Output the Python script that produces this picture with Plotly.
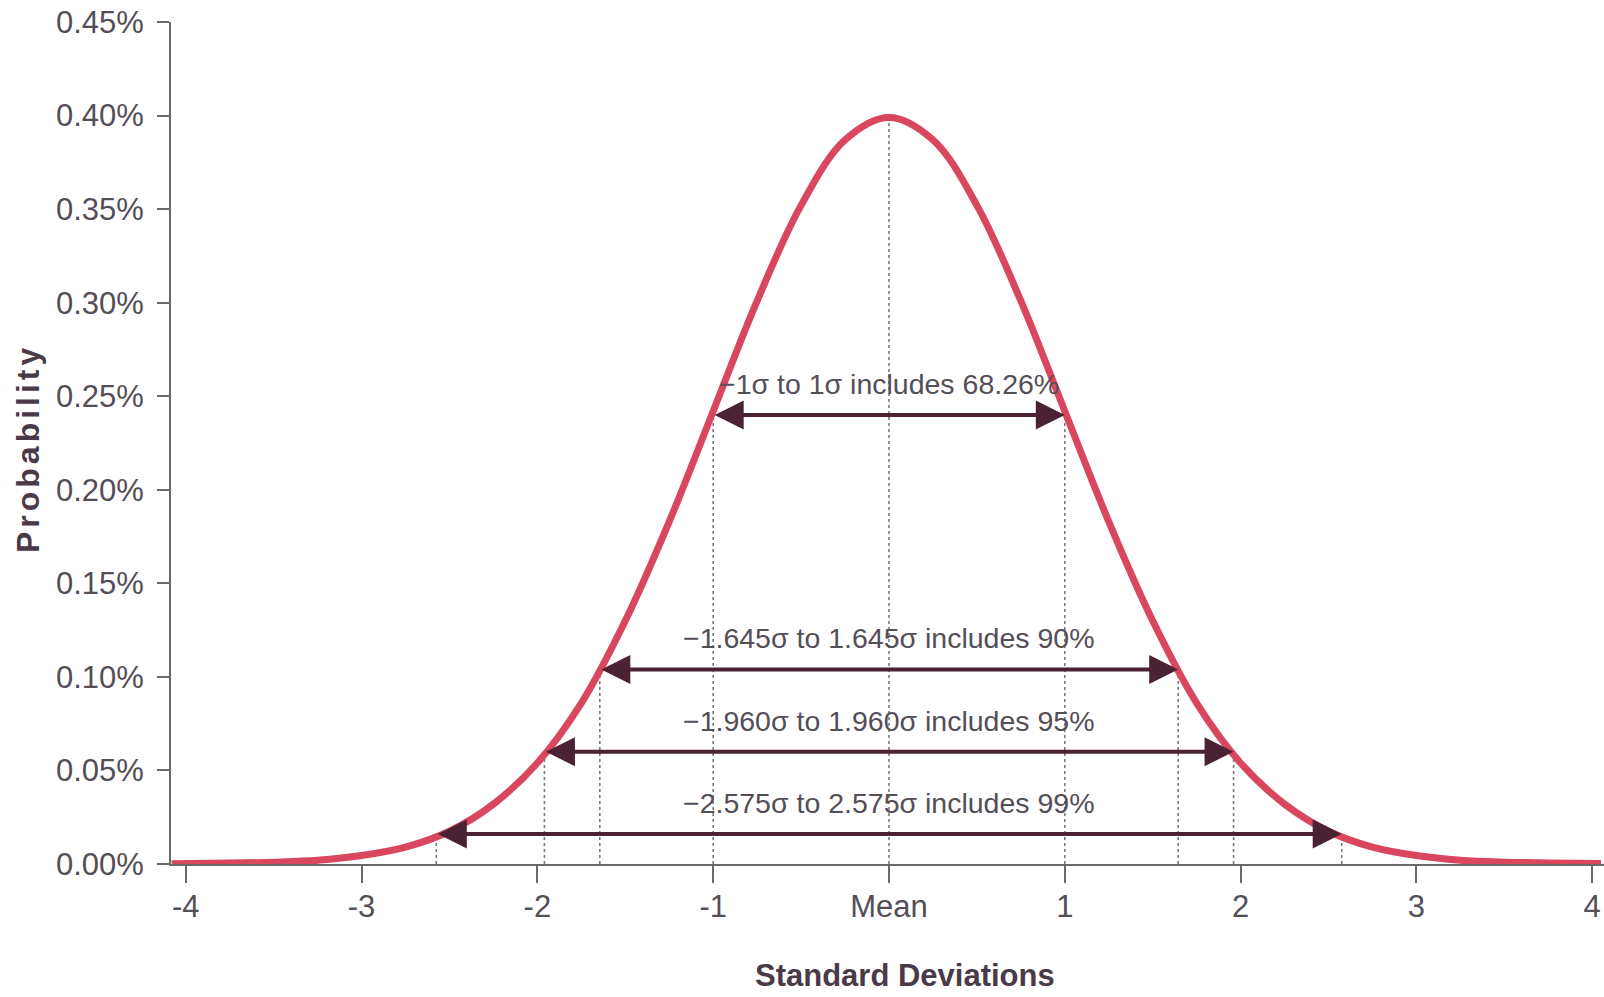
import plotly.graph_objects as go

# Standard normal curve, values read in "probability" units
curve_x = [-4.08, -3.75, -3.5, -3.25, -3.0, -2.75, -2.5, -2.25, -2.0, -1.75, -1.5,
           -1.25, -1.0, -0.75, -0.5, -0.25, 0.0, 0.25, 0.5, 0.75, 1.0, 1.25, 1.5,
           1.75, 2.0, 2.25, 2.5, 2.75, 3.0, 3.25, 3.5, 3.75, 4.05]
curve_y = [0.0002, 0.0005, 0.001, 0.002, 0.0045, 0.009, 0.0175, 0.032, 0.054, 0.086, 0.130,
           0.183, 0.242, 0.301, 0.352, 0.387, 0.399, 0.387, 0.352, 0.301, 0.242, 0.183, 0.130,
           0.086, 0.054, 0.032, 0.0175, 0.009, 0.0045, 0.002, 0.001, 0.0006, 0.0003]

# Confidence intervals: half-width in sigma, height of the arrow, label
interval_z = [1.0, 1.645, 1.960, 2.575]
interval_h = [0.240, 0.104, 0.060, 0.016]
interval_labels = [
    "\u22121\u03c3 to 1\u03c3 includes 68.26%",
    "\u22121.645\u03c3 to 1.645\u03c3 includes 90%",
    "\u22121.960\u03c3 to 1.960\u03c3 includes 95%",
    "\u22122.575\u03c3 to 2.575\u03c3 includes 99%",
]
peak_y = 0.399

x_ticks = [-4, -3, -2, -1, 0, 1, 2, 3, 4]
x_ticktext = ["-4", "-3", "-2", "-1", "Mean", "1", "2", "3", "4"]
y_ticks = [0.0, 0.05, 0.10, 0.15, 0.20, 0.25, 0.30, 0.35, 0.40, 0.45]
y_ticktext = ["0.00%", "0.05%", "0.10%", "0.15%", "0.20%", "0.25%",
              "0.30%", "0.35%", "0.40%", "0.45%"]

FONT = "Liberation Sans, Arial, sans-serif"
TEXT = "#544e57"
TITLE = "#4a3a48"
AXIS = "#6a6a6a"
CURVE = "#d9475f"
ARROW = "#4a2234"
DOT = "#7a7a7a"

fig = go.Figure()

# dotted guides from the axis up to each interval bound and to the peak
guide_x, guide_y = [0.0, 0.0, None], [0.0, peak_y, None]
for z, h in zip(interval_z, interval_h):
    for s in (-z, z):
        guide_x += [s, s, None]
        guide_y += [0.0, h, None]
fig.add_trace(go.Scatter(x=guide_x, y=guide_y, mode="lines",
                         line=dict(color=DOT, width=1.6, dash="dot"),
                         hoverinfo="skip", showlegend=False))

fig.add_trace(go.Scatter(x=curve_x, y=curve_y, mode="lines",
                         line=dict(color=CURVE, width=7, shape="spline", smoothing=1),
                         cliponaxis=False, showlegend=False))

for z, h, label in zip(interval_z, interval_h, interval_labels):
    fig.add_annotation(x=z, y=h, ax=-z, ay=h, xref="x", yref="y", axref="x", ayref="y",
                       text="", showarrow=True, arrowside="end+start",
                       arrowhead=2, startarrowhead=2, arrowsize=1.45, startarrowsize=1.45,
                       arrowwidth=4, arrowcolor=ARROW, standoff=0, startstandoff=0)
    fig.add_annotation(x=0.0, y=h, xref="x", yref="y", yshift=31, text=label,
                       showarrow=False, font=dict(family=FONT, size=28.5, color=TEXT))

fig.add_annotation(x=0.512, y=-0.132, xref="paper", yref="paper",
                   xanchor="center", yanchor="middle",
                   text="<b>Standard Deviations</b>", showarrow=False,
                   font=dict(family=FONT, size=31, color=TITLE))
fig.add_annotation(x=-0.0998, y=0.494, xref="paper", yref="paper", textangle=-90,
                   xanchor="center", yanchor="middle",
                   text='<b><span style="letter-spacing:4px">Probability</span></b>',
                   showarrow=False, font=dict(family=FONT, size=32, color=TITLE))

fig.update_xaxes(range=[-4.084, 4.067], tickvals=x_ticks, ticktext=x_ticktext,
                 showline=True, linewidth=2, linecolor=AXIS, ticks="outside",
                 ticklen=17, tickwidth=2, tickcolor=AXIS, showgrid=False, zeroline=False,
                 tickfont=dict(family=FONT, size=31, color=TEXT), layer="below traces",
                 ticklabelstandoff=-3, ticklabeloverflow="allow")
fig.update_yaxes(range=[0, 0.45], tickvals=y_ticks, ticktext=y_ticktext,
                 showline=True, linewidth=2, linecolor=AXIS, ticks="outside",
                 ticklen=12, tickwidth=2, tickcolor=AXIS, showgrid=False, zeroline=False,
                 tickfont=dict(family=FONT, size=31, color=TEXT), layer="below traces",
                 ticklabelstandoff=7)

fig.update_layout(width=1604, height=997, margin=dict(l=171, r=0, t=22, b=133),
                  plot_bgcolor="white", paper_bgcolor="white", showlegend=False)

fig.write_html("out.html")
